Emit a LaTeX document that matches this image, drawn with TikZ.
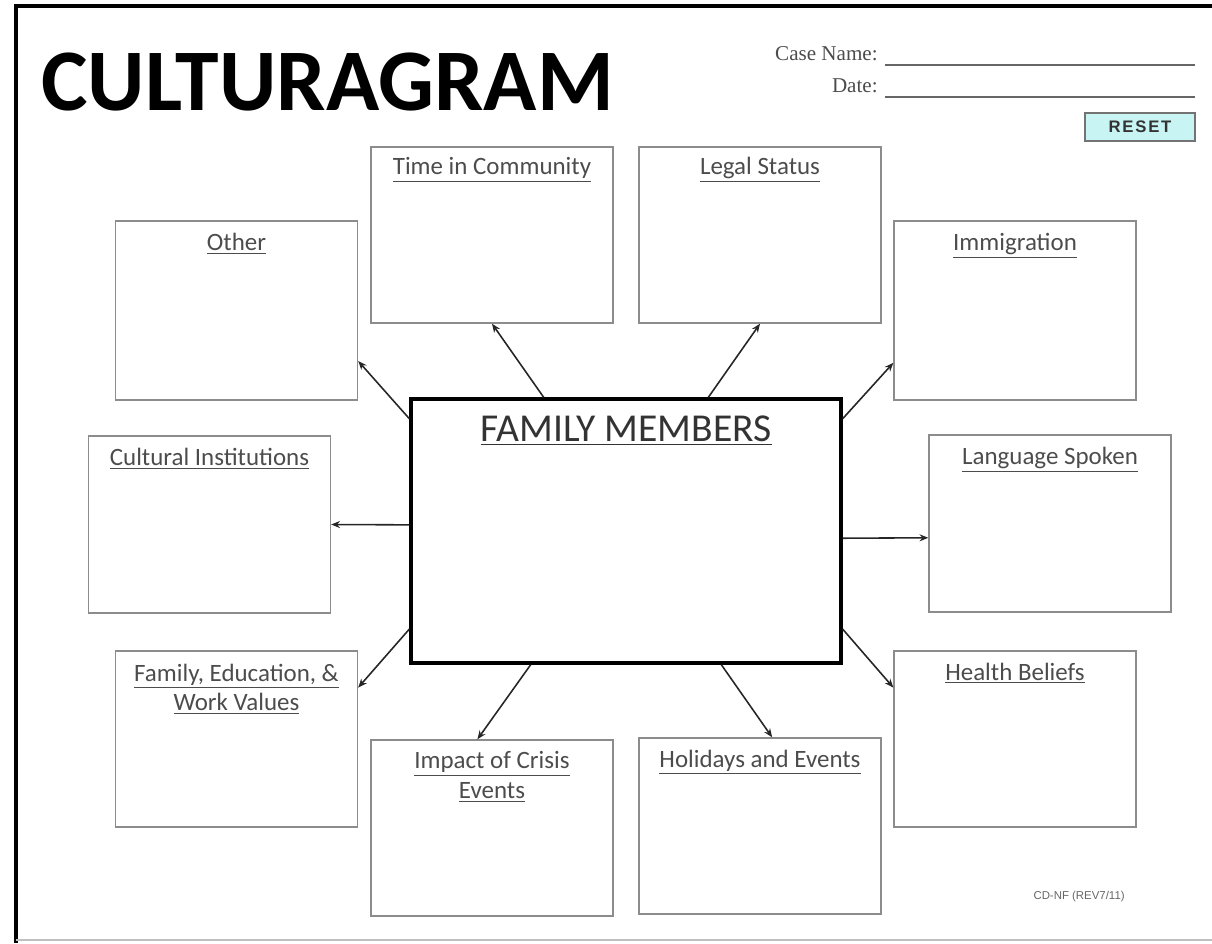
\documentclass[tikz,border=0pt]{standalone}
\usepackage{fontspec}
\setmainfont{Carlito}
\newfontfamily\serfont{Liberation Serif}
\newfontfamily\arfont{Liberation Sans}
\usetikzlibrary{positioning,calc,arrows.meta}
\definecolor{resetcyan}{HTML}{C8F4F4}

\begin{document}
\begin{tikzpicture}[x=0.02cm,y=-0.02cm,
	topic/.style={draw=black!45,line width=0.8pt,minimum width=4.84cm,minimum height=3.52cm,inner sep=0pt},
	heading/.style={text=black!70,font=\fontsize{14.2}{17}\selectfont,align=center,inner sep=0pt},
	link/.style={-{Stealth[length=5pt,width=4pt]},line width=0.9pt,draw=black!85}]

	\useasboundingbox (0,0) rectangle (1212,943);
	% page frame
	\draw[line width=2pt] (16,943) -- (16,6) -- (1212,6);
	\draw[black!25,line width=1pt] (16,940) -- (1212,940);

	% header
	\node[anchor=base west,inner sep=0pt,font=\fontsize{50}{56}\selectfont\bfseries] (title) at (41,110) {CULTURAGRAM};
	\node[anchor=base east,inner sep=0pt,text=black!70,font=\serfont\fontsize{12}{14}\selectfont] (casename) at (878,60) {Case Name:};
	\node[anchor=base east,inner sep=0pt,text=black!70,font=\serfont\fontsize{12}{14}\selectfont] (date) at (878,92) {Date:};
	\coordinate (cn1) at (885,65);
	\coordinate (cn2) at (1195,65);
	\coordinate (dt1) at (885,97);
	\coordinate (dt2) at (1195,97);
	\draw[black!60,line width=0.8pt] (cn1) -- (cn2);
	\draw[black!60,line width=0.8pt] (dt1) -- (dt2);
	\node[draw=black!55,fill=resetcyan,line width=0.8pt,minimum width=2.2cm,minimum height=0.56cm,font=\arfont\bfseries\fontsize{9.5}{11}\selectfont,text=black!80] (reset) at (1140,127) {R\kern1pt E\kern1pt S\kern1pt E\kern1pt T};

	% centre
	\node[draw,line width=2pt,minimum width=8.6cm,minimum height=5.28cm] (fam) at (626,531) {};
	\node[text=black!80,font=\fontsize{22.5}{26}\selectfont,inner sep=0pt,below=0.36cm of fam.north] (famt) {\underline{FAMILY MEMBERS}};

	% topic boxes
	\node[topic] (time) at (492,235) {};
	\node[topic] (legal) at (760,235) {};
	\node[topic,minimum height=3.58cm] (other) at (236.5,310.5) {};
	\node[topic,minimum height=3.58cm] (immig) at (1015,310.5) {};
	\node[topic,minimum height=3.54cm] (cult) at (209.5,524.5) {};
	\node[topic,minimum height=3.54cm] (lang) at (1050,523.5) {};
	\node[topic] (famed) at (236.5,739) {};
	\node[topic] (health) at (1015,739) {};
	\node[topic] (impact) at (492,828) {};
	\node[topic] (holid) at (760,826) {};

	\node[heading,below=0.22cm of time.north] (timet) {\underline{Time in Community}};
	\node[heading,below=0.22cm of legal.north] (legalt) {\underline{Legal Status}};
	\node[heading,below=0.26cm of other.north] (othert) {\underline{Other}};
	\node[heading,below=0.26cm of immig.north] (immigt) {\underline{Immigration}};
	\node[heading,below=0.26cm of cult.north] (cultt) {\underline{Cultural Institutions}};
	\node[heading,below=0.26cm of lang.north] (langt) {\underline{Language Spoken}};
	\node[heading,below=0.26cm of famed.north] (famedt) {\underline{Family, Education, \&}\\\underline{Work Values}};
	\node[heading,below=0.24cm of health.north] (healtht) {\underline{Health Beliefs}};
	\node[heading,below=0.24cm of impact.north] (impactt) {\underline{Impact of Crisis}\\\underline{Events}};
	\node[heading,below=0.24cm of holid.north] (holidt) {\underline{Holidays and Events}};

	\node[anchor=base east,inner sep=0pt,text=black!60,font=\arfont\fontsize{6.5}{8}\selectfont] (formno) at (1125,899) {CD-NF (REV7/11)};

	% connectors
	\draw[link] ($(fam.north west)!0.31!(fam.north east)$) -- (time.south);
	\draw[link] ($(fam.north west)!0.69!(fam.north east)$) -- (legal.south);
	\draw[link] ($(fam.north west)!0.08!(fam.south west)$) -- ($(other.north east)!0.78!(other.south east)$);
	\draw[link] ($(fam.north east)!0.08!(fam.south east)$) -- ($(immig.north west)!0.79!(immig.south west)$);
	\draw[link] ($(fam.north west)!0.477!(fam.south west)$) -- (cult.east);
	\draw[link] ($(fam.north east)!0.527!(fam.south east)$) -- ($(lang.north west)!0.58!(lang.south west)$);
	\draw[link] ($(fam.north west)!0.867!(fam.south west)$) -- ($(famed.north east)!0.21!(famed.south east)$);
	\draw[link] ($(fam.north east)!0.867!(fam.south east)$) -- ($(health.north west)!0.21!(health.south west)$);
	\draw[link] ($(fam.south west)!0.28!(fam.south east)$) -- ($(impact.north west)!0.44!(impact.north east)$);
	\draw[link] ($(fam.south west)!0.72!(fam.south east)$) -- ($(holid.north west)!0.55!(holid.north east)$);

\end{tikzpicture}
\end{document}
